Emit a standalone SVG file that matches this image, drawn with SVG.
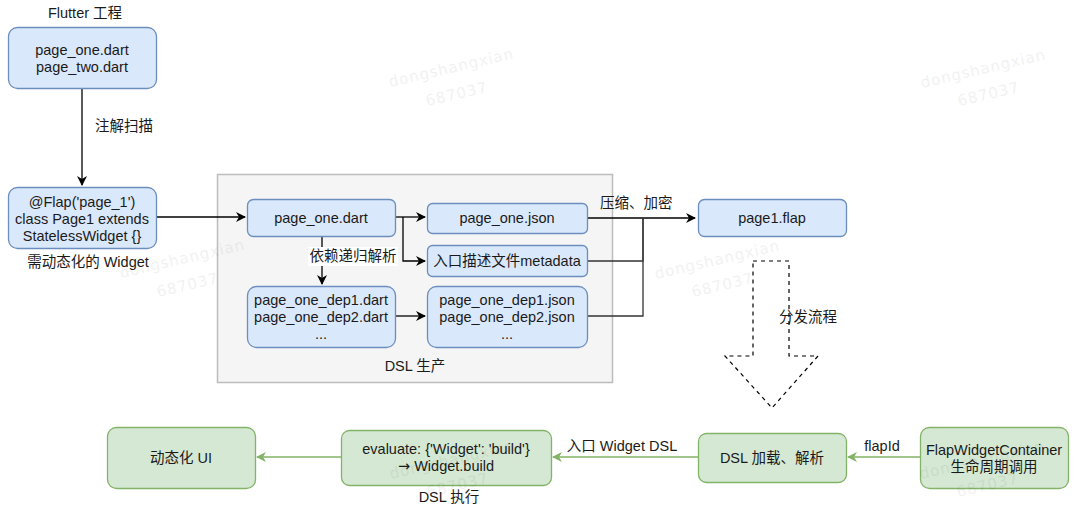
<svg xmlns="http://www.w3.org/2000/svg" width="1080" height="518" viewBox="0 0 1080 518">
<style>
text{font-family:"Liberation Sans","Noto Sans CJK SC",Arial,sans-serif;font-size:14.5px;fill:#1a1a1a}
.c{text-anchor:middle}
.blue{fill:#dae8fc;stroke:#6c8ebf;stroke-width:1.3}
.green{fill:#d5e8d4;stroke:#82b366;stroke-width:1.3}
.ln{fill:none;stroke:#000;stroke-width:1.3}
.gl{fill:none;stroke:#82b366;stroke-width:1.3}
.lbl{fill:#fff}
.wm{font-family:"DejaVu Sans",sans-serif;font-size:15px;fill:#000;opacity:0.05;letter-spacing:1px}
</style>
<defs>
<marker id="ab" viewBox="0 0 10 10" refX="9" refY="5" markerWidth="10" markerHeight="10" markerUnits="userSpaceOnUse" orient="auto">
<path d="M0,0 L10,5 L0,10 L3,5 Z" fill="#000"/>
</marker>
<marker id="ag" viewBox="0 0 10 10" refX="9" refY="5" markerWidth="10" markerHeight="10" markerUnits="userSpaceOnUse" orient="auto">
<path d="M0,0 L10,5 L0,10 L3,5 Z" fill="#82b366"/>
</marker>
</defs>
<rect width="1080" height="518" fill="#fff"/>

<g id="dsl-production">
<rect x="217.5" y="174.5" width="395" height="208" fill="#f5f5f5" stroke="#bdbdbd" stroke-width="1.5"/>
<text class="c" x="415" y="371">DSL 生产</text>
</g>

<g id="connectors">
<path class="ln" d="M82,88 V185" marker-end="url(#ab)"/>
<rect class="lbl" x="93" y="116" width="62" height="20"/>
<text x="95" y="131">注解扫描</text>
<path class="ln" d="M156,217 H245" marker-end="url(#ab)"/>
<path class="ln" d="M395,217 H425" marker-end="url(#ab)"/>
<path class="ln" d="M403,217 V261 H425" marker-end="url(#ab)"/>
<path class="ln" d="M322,236 V284" marker-end="url(#ab)"/>
<rect class="lbl" x="308" y="247" width="90" height="19"/>
<text class="c" x="353" y="261">依赖递归解析</text>
<path class="ln" d="M395,316 H425" marker-end="url(#ab)"/>
<path class="ln" d="M587,218 H695" marker-end="url(#ab)"/>
<path class="ln" d="M587,261 H643 V218" style="stroke:#333"/>
<path class="ln" d="M587,316 H643 V218" style="stroke:#333"/>
<text x="600" y="208">压缩、加密</text>
<path d="M753,261 H789 V356 H818 L772,408 L725,356 H753 Z" fill="none" stroke="#000" stroke-width="1.2" stroke-dasharray="4 4"/>
<text x="779" y="322">分发流程</text>
<path class="gl" d="M920,457 H848" marker-end="url(#ag)"/>
<text class="c" x="882" y="451">flapId</text>
<path class="gl" d="M698,457 H553" marker-end="url(#ag)"/>
<text class="c" x="622" y="451">入口 Widget DSL</text>
<path class="gl" d="M341,457 H257" marker-end="url(#ag)"/>
</g>

<g id="flutter-project">
<text class="c" x="85" y="18">Flutter 工程</text>
<rect class="blue" x="8.5" y="27.5" width="148" height="61" rx="9"/>
<text class="c" x="82" y="55">page_one.dart</text>
<text class="c" x="82" y="72">page_two.dart</text>
</g>

<g id="flap-widget">
<rect class="blue" x="8.5" y="187.5" width="148" height="61" rx="9"/>
<text class="c" x="82" y="207">@Flap('page_1')</text>
<text class="c" x="82" y="224">class Page1 extends</text>
<text class="c" x="82" y="241">StatelessWidget {}</text>
<text class="c" x="88" y="267">需动态化的 Widget</text>
</g>

<g id="page-one-dart">
<rect class="blue" x="247.5" y="199.5" width="148" height="37" rx="6"/>
<text class="c" x="321" y="223">page_one.dart</text>
</g>

<g id="page-one-json">
<rect class="blue" x="427.5" y="203.5" width="160" height="30" rx="5"/>
<text class="c" x="507" y="223">page_one.json</text>
</g>

<g id="metadata">
<rect class="blue" x="427.5" y="245.5" width="160" height="31" rx="5"/>
<text class="c" x="507" y="266">入口描述文件metadata</text>
</g>

<g id="dep-dart">
<rect class="blue" x="247.5" y="286.5" width="148" height="61" rx="9"/>
<text class="c" x="321" y="305">page_one_dep1.dart</text>
<text class="c" x="321" y="322">page_one_dep2.dart</text>
<text class="c" x="321" y="339">...</text>
</g>

<g id="dep-json">
<rect class="blue" x="427.5" y="286.5" width="160" height="61" rx="9"/>
<text class="c" x="507" y="305">page_one_dep1.json</text>
<text class="c" x="507" y="322">page_one_dep2.json</text>
<text class="c" x="507" y="339">...</text>
</g>

<g id="page1-flap">
<rect class="blue" x="698.5" y="199.5" width="148" height="37" rx="6"/>
<text class="c" x="772" y="223">page1.flap</text>
</g>

<g id="dynamic-ui">
<rect class="green" x="107.5" y="427.5" width="148" height="61" rx="9"/>
<text class="c" x="181" y="463">动态化 UI</text>
</g>

<g id="dsl-exec">
<rect class="green" x="341.5" y="430.5" width="210" height="55" rx="8"/>
<text class="c" x="446" y="454">evaluate: {'Widget': 'build'}</text>
<text class="c" x="446" y="471"><tspan style="font-family:'DejaVu Sans',sans-serif">→</tspan> Widget.build</text>
<text class="c" x="449" y="502">DSL 执行</text>
</g>

<g id="dsl-load">
<rect class="green" x="698.5" y="433.5" width="148" height="49" rx="8"/>
<text class="c" x="772" y="463">DSL 加载、解析</text>
</g>

<g id="flap-container">
<rect class="green" x="920.5" y="427.5" width="148" height="61" rx="9"/>
<text class="c" x="994" y="455">FlapWidgetContainer</text>
<text class="c" x="994" y="472">生命周期调用</text>
</g>

<g id="watermarks">
<text class="wm" transform="translate(390,87) rotate(-13)">dongshangxian</text>
<text class="wm" transform="translate(427,106) rotate(-13)">687037</text>
<text class="wm" transform="translate(922,88) rotate(-13)">dongshangxian</text>
<text class="wm" transform="translate(959,106) rotate(-13)">687037</text>
<text class="wm" transform="translate(121,278) rotate(-13)">dongshangxian</text>
<text class="wm" transform="translate(158,297) rotate(-13)">687037</text>
<text class="wm" transform="translate(656,279) rotate(-13)">dongshangxian</text>
<text class="wm" transform="translate(693,297) rotate(-13)">687037</text>
<text class="wm" transform="translate(391,479) rotate(-13)">dongshangxian</text>
<text class="wm" transform="translate(428,497) rotate(-13)">687037</text>
<text class="wm" transform="translate(921,479) rotate(-13)">dongshangxian</text>
<text class="wm" transform="translate(958,497) rotate(-13)">687037</text>
</g>
</svg>
